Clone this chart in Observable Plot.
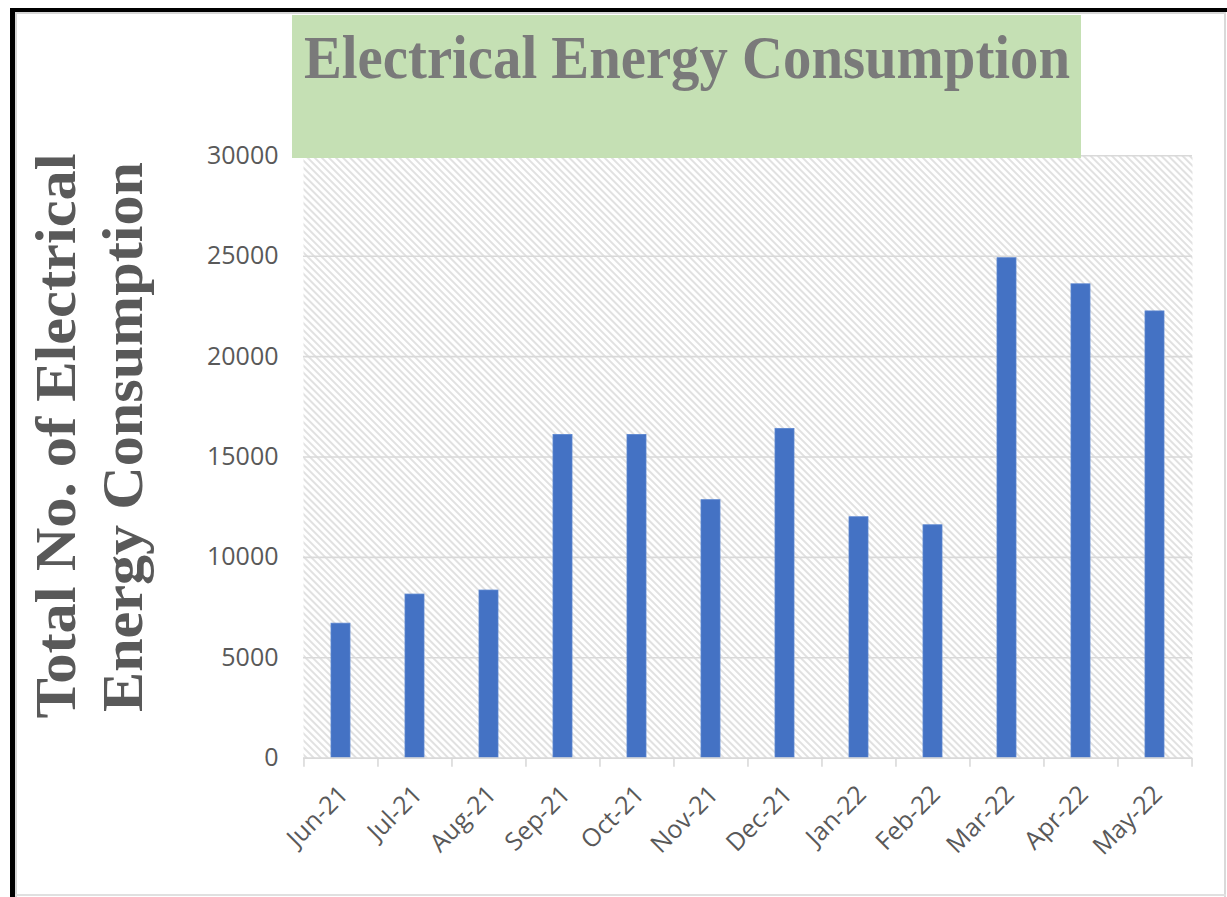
<!DOCTYPE html>
<html><head><meta charset="utf-8">
<script src="https://cdn.jsdelivr.net/npm/d3@7"></script>
<script src="https://cdn.jsdelivr.net/npm/@observablehq/plot@0.6"></script>
<style>
html,body{margin:0;padding:0;background:#fff;}
#page{position:relative;width:1227px;height:897px;overflow:hidden;background:#fff;}
#chart{position:absolute;left:0;top:0;}
.bline{position:absolute;}
#title{position:absolute;left:292px;top:15px;width:789px;height:143px;background:#c5e0b4;overflow:hidden;}
#title span{position:absolute;left:0;top:11px;white-space:nowrap;font-family:"Liberation Serif","Times New Roman",serif;font-weight:bold;font-size:62px;line-height:62px;color:#7a7a7a;transform-origin:0 0;}
.ylab{position:absolute;white-space:nowrap;font-family:"Liberation Serif","Times New Roman",serif;font-weight:bold;font-size:58px;line-height:58px;color:#595959;}
</style></head>
<body><div id="page">
<div id="chart"></div>
<div id="title"><span id="titleText"></span></div>
<div class="ylab" id="yl1"></div>
<div class="ylab" id="yl2"></div>
<div class="bline" style="left:10px;top:8px;width:1217px;height:4px;background:#000"></div>
<div class="bline" style="left:10px;top:8px;width:5px;height:889px;background:#000"></div>
<div class="bline" style="left:15px;top:12px;width:1210px;height:2px;background:#d6d6d6"></div>
<div class="bline" style="left:15px;top:12px;width:2px;height:885px;background:#d6d6d6"></div>
<div class="bline" style="left:1224px;top:12px;width:2px;height:885px;background:#d9d9d9"></div>
<div class="bline" style="left:15px;top:894px;width:1211px;height:2px;background:#e0e0e0"></div>
</div>
<script>
const months = ["Jun-21","Jul-21","Aug-21","Sep-21","Oct-21","Nov-21","Dec-21","Jan-22","Feb-22","Mar-22","Apr-22","May-22"];
const consumption = [6700, 8150, 8350, 16100, 16100, 12850, 16400, 12000, 11600, 24900, 23600, 22250];
const yTicks = [0, 5000, 10000, 15000, 20000, 25000, 30000];
const titleText = "Electrical Energy Consumption";
const yLabelLines = ["Total No. of Electrical", "Energy Consumption"];

const data = months.map((m, i) => ({month: m, value: consumption[i]}));

const W = 1227, H = 897;
const mL = 303, mR = 35, mT = 155.3, mB = 139.3;
const step = (W - mL - mR) / months.length;

const svg = Plot.plot({
  width: W, height: H,
  marginLeft: mL, marginRight: mR, marginTop: mT, marginBottom: mB,
  style: {fontFamily: "'Open Sans', sans-serif", color: "#595959", background: "transparent"},
  x: {domain: months, paddingInner: 0.74, paddingOuter: 0.37, label: null},
  y: {domain: [0, 30000], label: null},
  marks: [
    Plot.frame({fill: "url(#hatch)", stroke: null}),
    Plot.ruleY(yTicks.filter(v => v > 0), {stroke: "#d9d9d9", strokeWidth: 1.6}),
    Plot.barY(data, {x: "month", y: "value", fill: "#4472c4", stroke: "#5b86d0", strokeWidth: 0.8}),
    Plot.ruleY([0], {stroke: "#d9d9d9", strokeWidth: 1.8}),
    Plot.ruleX(months, {x: d => d, y1: 0, y2: 0, insetBottom: -9, dx: -step / 2, stroke: "#d9d9d9", strokeWidth: 1.6}),
    Plot.ruleX([months[months.length - 1]], {x: d => d, y1: 0, y2: 0, insetBottom: -9, dx: step / 2, stroke: "#d9d9d9", strokeWidth: 1.6}),
    Plot.axisY({ticks: yTicks, tickSize: 0, tickPadding: 25, fontSize: 25, tickFormat: d => String(d), label: null}),
    Plot.axisX({tickSize: 0, tickRotate: -45, tickPadding: 14, fontSize: 25, dy: 18, dx: 3, label: null})
  ]
});

// hatch pattern for plot background
const defs = d3.select(svg).insert("defs", ":first-child");
const pat = defs.append("pattern").attr("id", "hatch").attr("patternUnits", "userSpaceOnUse")
  .attr("width", 5).attr("height", 5).attr("patternTransform", "rotate(-45)");
pat.append("rect").attr("width", 5).attr("height", 5).attr("fill", "#ffffff");
pat.append("line").attr("x1", 1).attr("y1", 0).attr("x2", 1).attr("y2", 5).attr("stroke", "#d2d2d2").attr("stroke-width", 1.3);

document.getElementById("chart").appendChild(svg);

// title
const ts = document.getElementById("titleText");
ts.textContent = titleText;
const tw = ts.getBoundingClientRect().width;
const targetW = 766;
const sx = targetW / tw;
ts.style.left = ((789 - targetW) / 2) + "px";
ts.style.transform = `scaleX(${sx})`;

// y label lines (rotated)
function placeY(el, text, cx, cy, len) {
  el.textContent = text;
  const w = el.getBoundingClientRect().width;
  const h = el.getBoundingClientRect().height;
  const s = len / w;
  el.style.left = (cx - w / 2) + "px";
  el.style.top = (cy - h / 2) + "px";
  el.style.transform = `rotate(-90deg) scaleX(${s})`;
  el.style.transformOrigin = "50% 50%";
}
placeY(document.getElementById("yl1"), yLabelLines[0], 56, 435.5, 565);
placeY(document.getElementById("yl2"), yLabelLines[1], 123, 437, 550);
</script>
</body></html>
